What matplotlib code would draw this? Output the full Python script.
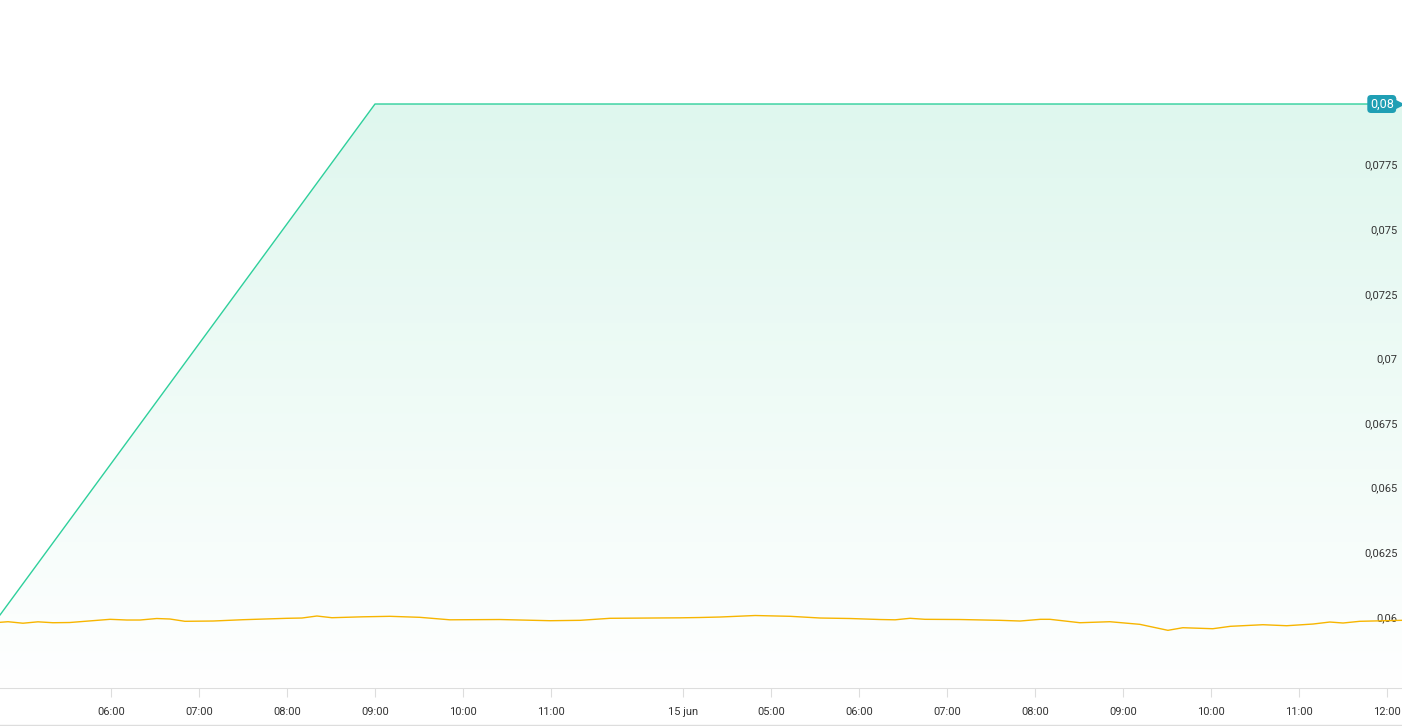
import numpy as np
import matplotlib.pyplot as plt
from matplotlib.lines import Line2D
from matplotlib.colors import LinearSegmentedColormap
from matplotlib.transforms import ScaledTranslation

plt.rcParams['font.family'] = ['Roboto', 'DejaVu Sans']

# x positions are hours on the chart's compressed time axis (06:00 on day 1 = 0)
tick_pos = [0, 1, 2, 3, 4, 5, 6.5, 7.5, 8.5, 9.5, 10.5, 11.5, 12.5, 13.5, 14.5]
tick_labels = ["06:00", "07:00", "08:00", "09:00", "10:00", "11:00", "15 jun",
               "05:00", "06:00", "07:00", "08:00", "09:00", "10:00", "11:00", "12:00"]

green_x = [-1.26, 3.0, 14.67]
green_y = [0.06023, 0.08, 0.08]

orange_x = [-1.26, -1.17, -1.0, -0.83, -0.66, -0.47, -0.01, 0.18, 0.33, 0.52,
            0.67, 0.84, 1.16, 1.5, 2.0, 2.17, 2.34, 2.51, 2.86, 3.17,
            3.51, 3.85, 4.42, 4.99, 5.33, 5.67, 6.13, 6.47, 6.69, 6.92,
            7.32, 7.72, 8.06, 8.40, 8.74, 8.91, 9.08, 9.25, 9.65, 10.10,
            10.33, 10.56, 10.67, 11.01, 11.35, 11.69, 12.01, 12.18, 12.52, 12.72,
            13.09, 13.36, 13.66, 13.85, 14.0, 14.19, 14.67]
orange_y = [0.059942, 0.059965, 0.059907, 0.059961, 0.059926, 0.059934, 0.060058, 0.060031, 0.060031, 0.060089,
            0.060070, 0.059981, 0.059992, 0.060043, 0.060097, 0.060108, 0.060186, 0.060120, 0.060155, 0.060174,
            0.060135, 0.060039, 0.060050, 0.060004, 0.060019, 0.060097, 0.060108, 0.060116, 0.060128, 0.060147,
            0.060205, 0.060174, 0.060108, 0.060089, 0.060050, 0.060039, 0.060097, 0.060058, 0.060050, 0.060019,
            0.059992, 0.060058, 0.060058, 0.059926, 0.059965, 0.059864, 0.059632, 0.059733, 0.059694, 0.059787,
            0.059849, 0.059810, 0.059876, 0.059953, 0.059915, 0.059981, 0.060019]

y_ticks = [0.06, 0.0625, 0.065, 0.0675, 0.07, 0.0725, 0.075, 0.0775, 0.08]
last_value = 0.08

GREEN = "#2fd09c"
ORANGE = "#f7b500"
TEAL = "#1f9fb4"

fig = plt.figure(figsize=(14.02, 7.26), dpi=100)
ax = fig.add_axes([0, 38 / 726, 1, 688 / 726])
xmin, xmax = -1.261, 14.67
ymin, ymax = 0.0574, 0.084025
ax.set_xlim(xmin, xmax)
ax.set_ylim(ymin, ymax)

# gradient fill under green line
poly = ax.fill_between(green_x, green_y, ymin, color="none", lw=0)
cmap = LinearSegmentedColormap.from_list("g", ["#ffffff", "#dff7ee"])
grad = np.linspace(0, 1, 256).reshape(-1, 1)
im = ax.imshow(grad, cmap=cmap, aspect="auto", origin="lower",
               extent=[xmin, xmax, ymin, 0.08], zorder=1)
im.set_clip_path(poly.get_paths()[0], transform=ax.transData)

ax.plot(green_x, green_y, color=GREEN, lw=1.0, zorder=3)
ax.plot(orange_x, orange_y, color=ORANGE, lw=1.0, zorder=3)

for s in ["top", "left", "right"]:
    ax.spines[s].set_visible(False)
ax.spines["bottom"].set_color("#dddddd")

ax.set_xticks(tick_pos)
ax.set_xticklabels(tick_labels)
ax.tick_params(axis="x", length=6.5, color="#dddddd", pad=7, labelsize=8, labelcolor="#333333")

ax.yaxis.tick_right()
ax.set_yticks(y_ticks)
ax.set_yticklabels([("%g" % v).replace(".", ",") for v in y_ticks])
ax.tick_params(axis="y", length=0, pad=-3, labelsize=8, labelcolor="#333333")
up = ScaledTranslation(0, 4 / 100, fig.dpi_scale_trans)
for lbl in ax.get_yticklabels():
    lbl.set_horizontalalignment("right")
    lbl.set_transform(lbl.get_transform() + up)

# current value badge
ax.annotate(("%g" % last_value).replace(".", ","), xy=(1, last_value), xycoords=("axes fraction", "data"),
            xytext=(-6, 0), textcoords="offset points", ha="right", va="center",
            fontsize=9, color="white", zorder=6,
            bbox=dict(boxstyle="round,pad=0.2,rounding_size=0.3", fc=TEAL, ec="none"))
ax.plot([xmax - 0.045], [last_value], marker=">", ms=7, color=TEAL, clip_on=False, zorder=5)

fig.add_artist(Line2D([0, 1], [0.6 / 726, 0.6 / 726], color="#dddddd", lw=1, transform=fig.transFigure))

fig.savefig("out.png", dpi=100)
